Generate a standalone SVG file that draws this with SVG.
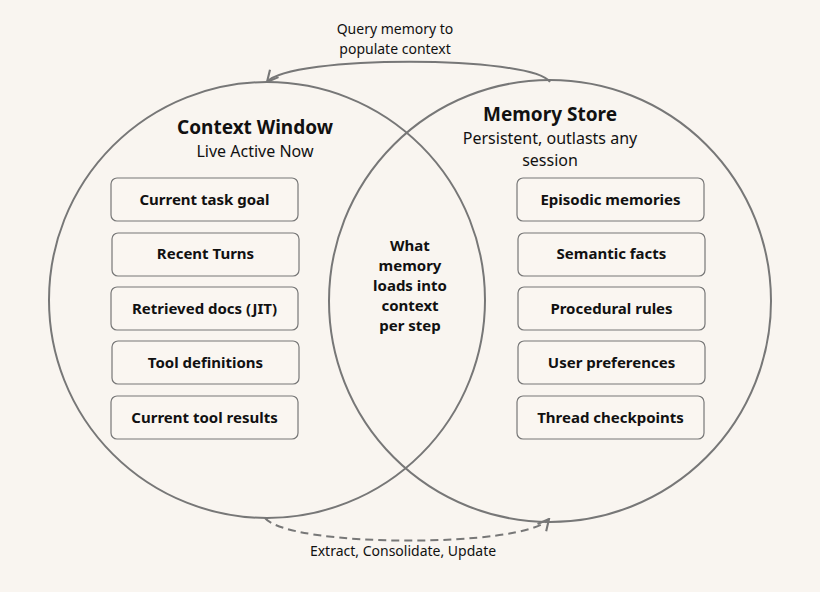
<svg xmlns="http://www.w3.org/2000/svg" width="820" height="592" viewBox="0 0 820 592">
<defs>
<marker id="ah" viewBox="0 0 10 10" refX="9" refY="5" markerWidth="7" markerHeight="7" orient="auto-start-reverse"><path d="M1,1 L9,5 L1,9" fill="none" stroke="#777" stroke-width="1.5"/></marker>
<style>
text{font-family:"Noto Sans","Liberation Sans",sans-serif;fill:#111}
.c{fill:none;stroke:#777;stroke-width:2}
.b{fill:#faf6f1;stroke:#777;stroke-width:1.2}
.bt{font-size:15px;font-weight:bold;text-anchor:middle}
.l{font-size:14px;text-anchor:middle}
</style>
</defs>
<rect width="820" height="592" fill="#f9f5f0"/>
<g id="left-circle"><circle class="c" cx="267" cy="300" r="218"/>
<text x="255" y="134" font-size="19" font-weight="bold" text-anchor="middle">Context Window</text>
<text x="255" y="157" font-size="16" text-anchor="middle">Live Active Now</text></g>
<g id="right-circle"><circle class="c" cx="550" cy="301" r="221"/>
<text x="550" y="121" font-size="19" font-weight="bold" text-anchor="middle">Memory Store</text>
<text x="550" y="144" font-size="16" text-anchor="middle">Persistent, outlasts any</text>
<text x="550" y="166" font-size="16" text-anchor="middle">session</text></g>
<g id="overlap"><text class="bt" x="410" y="251">What</text><text class="bt" x="410" y="271">memory</text><text class="bt" x="410" y="291">loads into</text><text class="bt" x="410" y="311">context</text><text class="bt" x="410" y="331">per step</text></g>
<g id="l1"><rect class="b" x="111" y="178" width="187" height="43" rx="6"/><text class="bt" x="204.5" y="205">Current task goal</text></g>
<g id="l2"><rect class="b" x="112" y="233" width="187" height="43" rx="6"/><text class="bt" x="205.5" y="259">Recent Turns</text></g>
<g id="l3"><rect class="b" x="111" y="287" width="187" height="43" rx="6"/><text class="bt" x="204.5" y="314">Retrieved docs (JIT)</text></g>
<g id="l4"><rect class="b" x="112" y="341" width="187" height="43" rx="6"/><text class="bt" x="205.5" y="368">Tool definitions</text></g>
<g id="l5"><rect class="b" x="111" y="396" width="187" height="43" rx="6"/><text class="bt" x="204.5" y="423">Current tool results</text></g>
<g id="r1"><rect class="b" x="517" y="178" width="187" height="43" rx="6"/><text class="bt" x="610.5" y="205">Episodic memories</text></g>
<g id="r2"><rect class="b" x="518" y="233" width="187" height="43" rx="6"/><text class="bt" x="611.5" y="259">Semantic facts</text></g>
<g id="r3"><rect class="b" x="518" y="287" width="187" height="43" rx="6"/><text class="bt" x="611.5" y="314">Procedural rules</text></g>
<g id="r4"><rect class="b" x="518" y="341" width="187" height="43" rx="6"/><text class="bt" x="611.5" y="368">User preferences</text></g>
<g id="r5"><rect class="b" x="517" y="396" width="187" height="43" rx="6"/><text class="bt" x="610.5" y="423">Thread checkpoints</text></g>
<g id="connectors">
<path d="M550,82 C530,55 290,55 267,82" fill="none" stroke="#777" stroke-width="2" marker-end="url(#ah)"/>
<path d="M265,518 C290,548 525,548 549,519" fill="none" stroke="#777" stroke-width="2" stroke-dasharray="8,5" marker-end="url(#ah)"/>
<text class="l" x="395" y="34">Query memory to</text>
<text class="l" x="395" y="54">populate context</text>
<text class="l" x="403" y="556">Extract, Consolidate, Update</text>
</g>
</svg>
